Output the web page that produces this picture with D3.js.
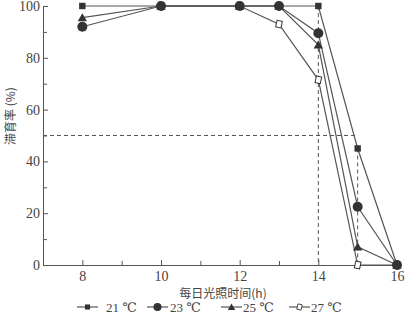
<!DOCTYPE html>
<html>
<head>
<meta charset="utf-8">
<script src="https://cdn.jsdelivr.net/npm/d3@7"></script>
<style>
  body { margin: 0; background: #fff; }
  svg text { fill: #444; }
  .axis path, .axis line { stroke: #555; }
</style>
</head>
<body>
<svg id="chart" width="406" height="323"></svg>
<script>
// data
const series21 = [[8, 100], [10, 100], [12, 100], [13, 100], [14, 100], [15, 45], [16, 0]];
const series23 = [[8, 92], [10, 100], [12, 100], [13, 100], [14, 89.5], [15, 22.5], [16, 0]];
const series25 = [[8, 95.5], [10, 100], [12, 100], [13, 100], [14, 85], [15, 7], [16, 0]];
const series27 = [[10, 100], [12, 100], [13, 93], [14, 71.5], [15, 0], [16, 0]];
const xTicks = [8, 10, 12, 14, 16];
const xMinor = [9, 11, 13, 15];
const yTicks = [0, 20, 40, 60, 80, 100];
const yMinor = [10, 30, 50, 70, 90];
const legendNames = ['21 ℃', '23 ℃', '25 ℃', '27 ℃'];

const svg = d3.select('#chart');
const x = d3.scaleLinear().domain([7, 16]).range([43, 397]);
const y = d3.scaleLinear().domain([0, 100]).range([265, 6]);
const serif = '"Liberation Serif", "DejaVu Serif", serif';
const cjk = '"Noto Sans CJK SC", sans-serif';

// dashed guides
const guide = svg.append('g').attr('stroke', '#555').attr('stroke-dasharray', '4,3').attr('fill', 'none');
guide.append('line').attr('x1', x(7)).attr('x2', x(15)).attr('y1', y(50)).attr('y2', y(50));
guide.append('line').attr('x1', x(14)).attr('x2', x(14)).attr('y1', y(100)).attr('y2', y(0));
guide.append('line').attr('x1', x(15)).attr('x2', x(15)).attr('y1', y(45)).attr('y2', y(0));

// axes
const xAxis = svg.append('g').attr('class', 'axis').attr('transform', `translate(0,${y(0)})`)
  .call(d3.axisBottom(x).tickValues(xTicks).tickSizeInner(-5).tickSizeOuter(0).tickPadding(6).tickFormat(d3.format('d')));
svg.append('g').attr('class', 'axis').attr('transform', `translate(0,${y(0)})`)
  .call(d3.axisBottom(x).tickValues(xMinor).tickSizeInner(-4).tickSizeOuter(0).tickFormat(''))
  .select('.domain').remove();
const yAxis = svg.append('g').attr('class', 'axis').attr('transform', `translate(${x(7)},0)`)
  .call(d3.axisLeft(y).tickValues(yTicks).tickSizeInner(-5).tickSizeOuter(0).tickPadding(3).tickFormat(d3.format('d')));
svg.append('g').attr('class', 'axis').attr('transform', `translate(${x(7)},0)`)
  .call(d3.axisLeft(y).tickValues(yMinor).tickSizeInner(-4).tickSizeOuter(0).tickFormat(''))
  .select('.domain').remove();
svg.selectAll('.axis text').attr('font-family', serif).attr('font-size', 14).style('fill', '#444');

// axis titles
svg.append('text').attr('x', 223).attr('y', 298).attr('text-anchor', 'middle')
  .attr('font-family', cjk).attr('font-size', 12).text('每日光照时间(h)');
svg.append('text').attr('transform', 'translate(15,116) rotate(-90)').attr('text-anchor', 'middle')
  .attr('font-family', cjk).attr('font-size', 12).text('滞育率 (%)');

// markers
function drawMarker(g, type, cx, cy) {
  if (type === 'square') {
    g.append('rect').attr('x', cx - 3.2).attr('y', cy - 3.2).attr('width', 6.4).attr('height', 6.4).attr('fill', '#333');
  } else if (type === 'circle') {
    g.append('circle').attr('cx', cx).attr('cy', cy).attr('r', 5).attr('fill', '#333');
  } else if (type === 'triangle') {
    g.append('path').attr('d', d3.symbol(d3.symbolTriangle, 38)()).attr('transform', `translate(${cx},${cy + 1})`).attr('fill', '#333');
  } else {
    g.append('rect').attr('x', cx - 2.7).attr('y', cy - 3.4).attr('width', 5.4).attr('height', 6.8)
      .attr('transform', `rotate(12,${cx},${cy})`).attr('fill', '#fff').attr('stroke', '#333').attr('stroke-width', 1);
  }
}

const line = d3.line().x(d => x(d[0])).y(d => y(d[1]));
const order = [
  { data: series27, type: 'open' },
  { data: series21, type: 'square' },
  { data: series25, type: 'triangle' },
  { data: series23, type: 'circle' }
];
order.forEach(s => {
  svg.append('path').attr('d', line(s.data)).attr('fill', 'none').attr('stroke', '#555').attr('stroke-width', 1.2);
});
order.forEach(s => {
  const g = svg.append('g');
  s.data.forEach(d => drawMarker(g, s.type, x(d[0]), y(d[1])));
});

// legend
const legendItems = [
  { type: 'square', lx: 77, tx: 106 },
  { type: 'circle', lx: 147, tx: 170 },
  { type: 'triangle', lx: 221, tx: 243 },
  { type: 'open', lx: 289, tx: 311 }
];
const leg = svg.append('g');
legendItems.forEach((it, i) => {
  leg.append('line').attr('x1', it.lx).attr('x2', it.lx + 21).attr('y1', 307).attr('y2', 307)
    .attr('stroke', '#555').attr('stroke-width', 1.2);
  const mg = leg.append('g').attr('transform', `translate(${it.lx + 10.5},307) scale(0.8) translate(${-(it.lx + 10.5)},-307)`);
  drawMarker(mg, it.type, it.lx + 10.5, 307);
  leg.append('text').attr('x', it.tx).attr('y', 312).attr('font-family', serif).attr('font-size', 13)
    .text(legendNames[i]);
});
</script>
</body>
</html>
